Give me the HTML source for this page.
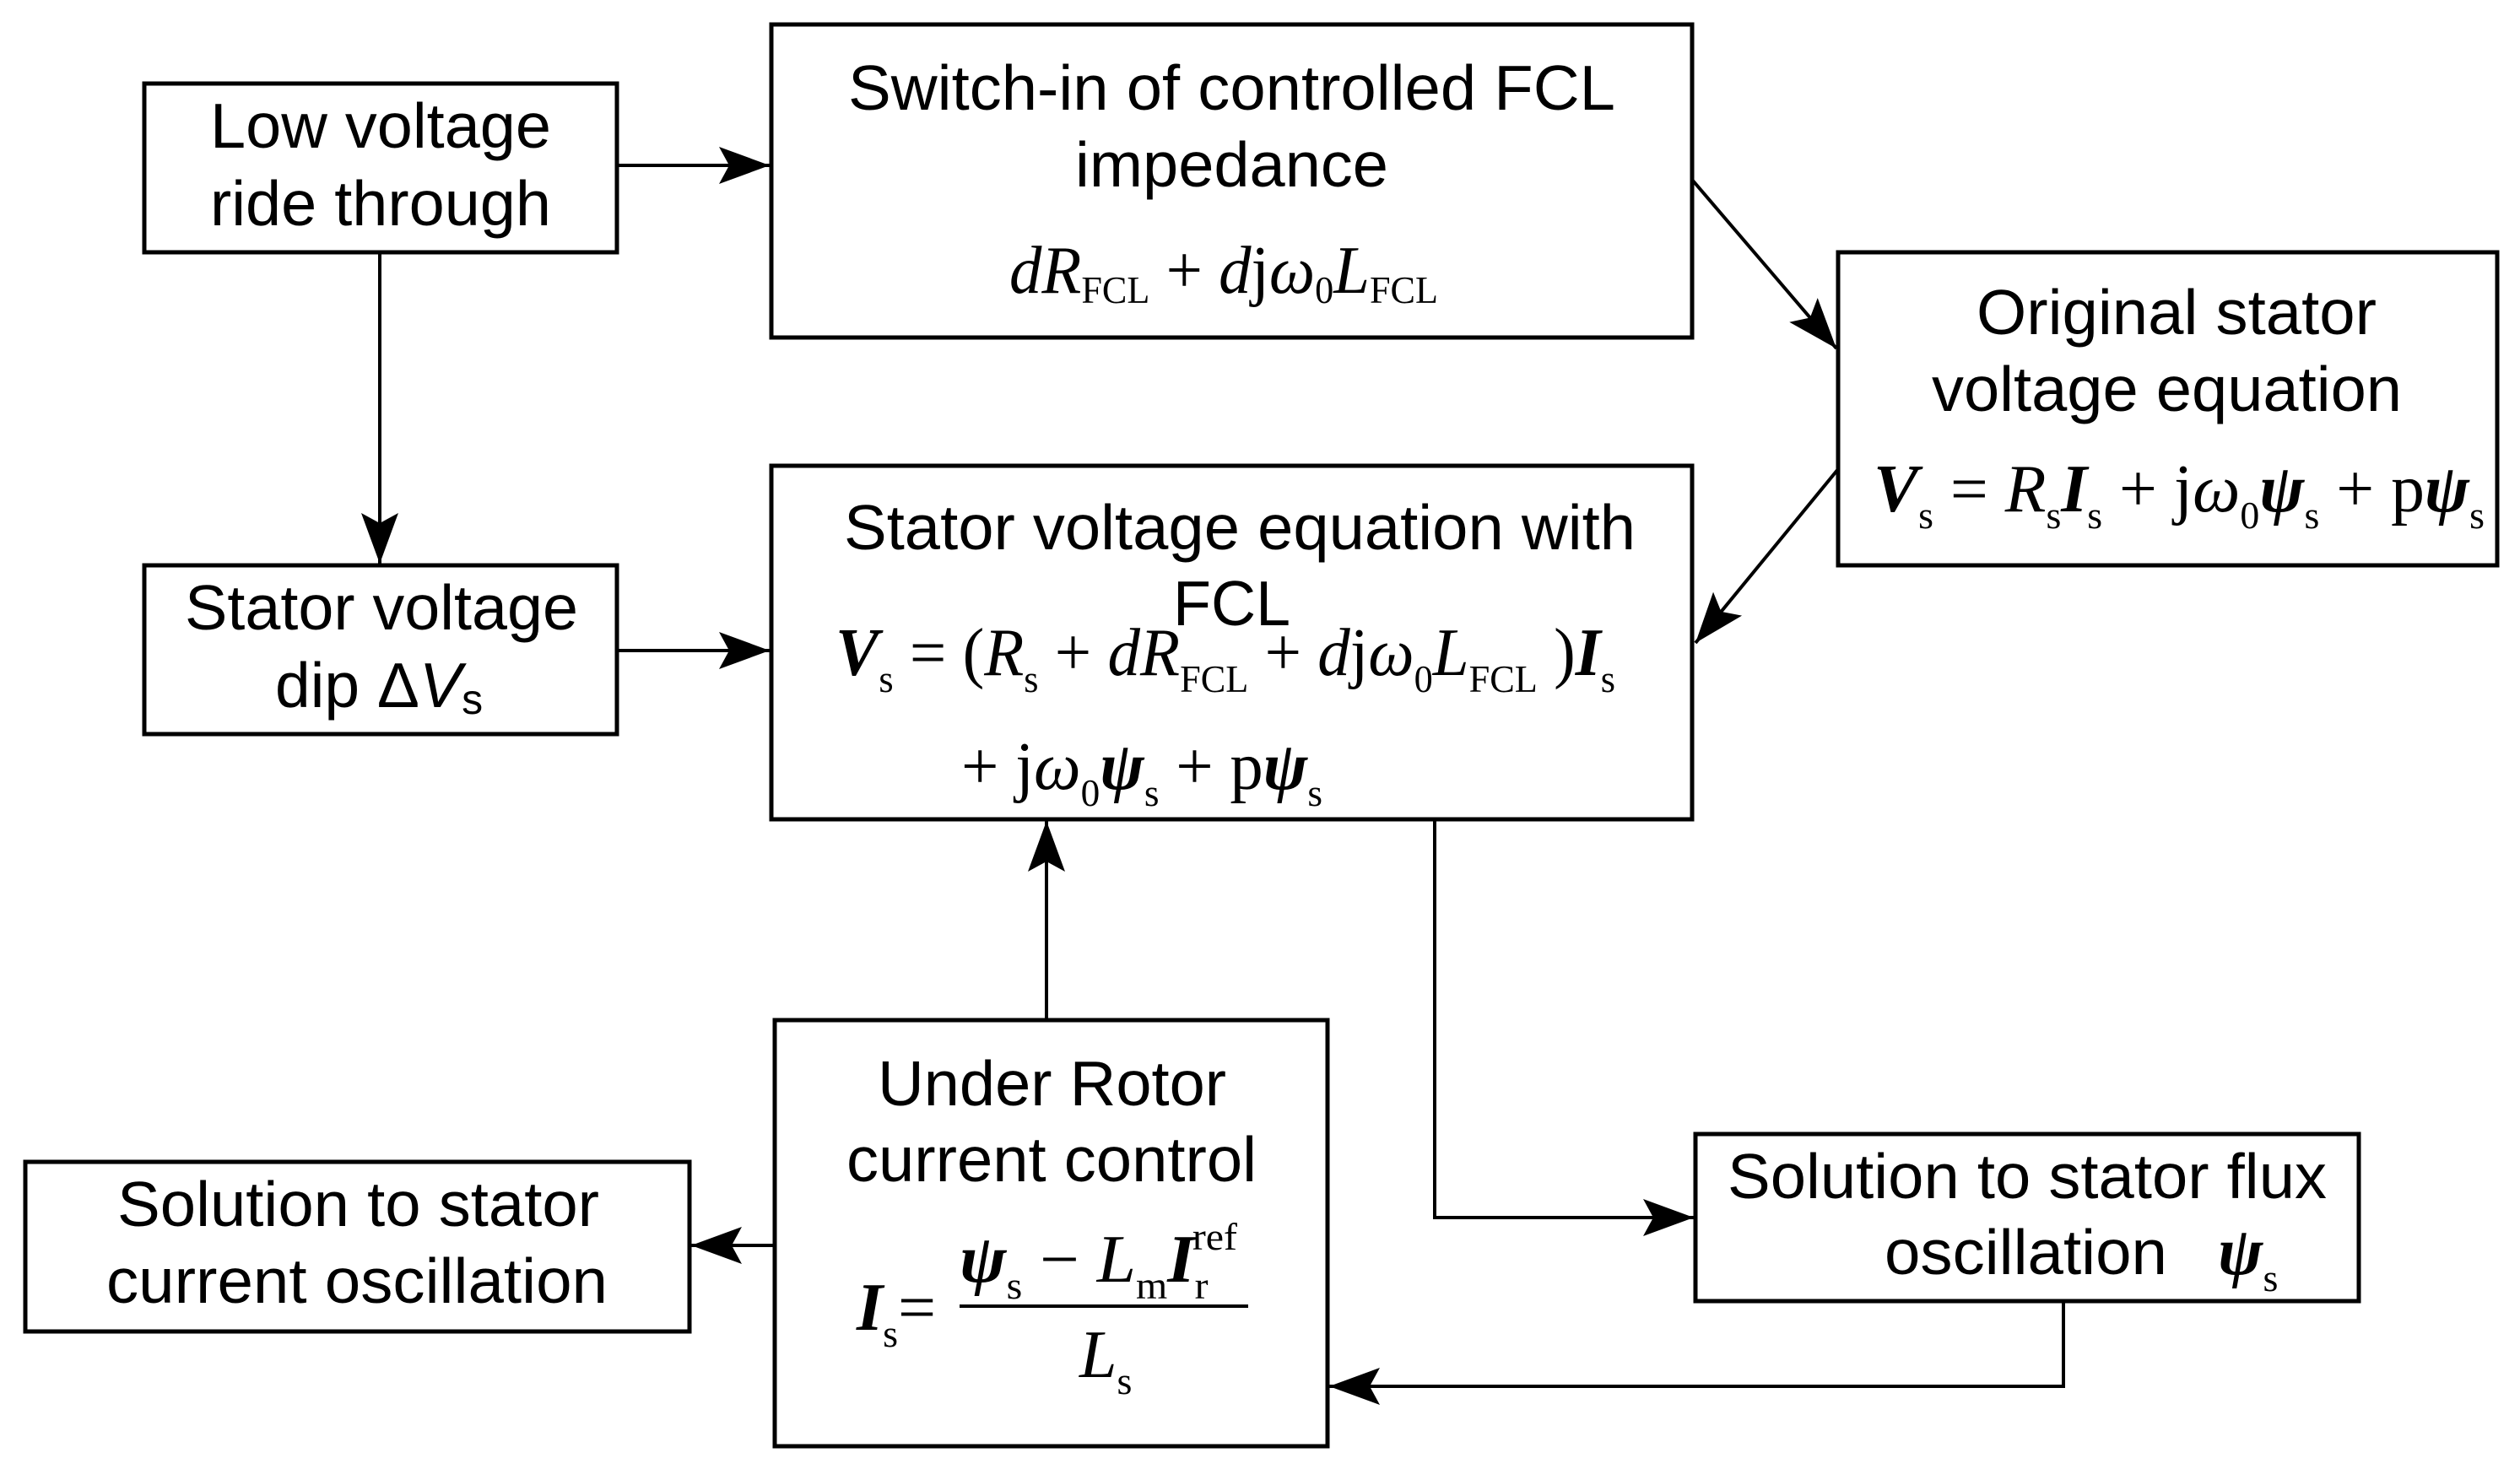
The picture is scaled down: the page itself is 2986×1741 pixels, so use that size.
<!DOCTYPE html>
<html><head><meta charset="utf-8"><style>
html,body{margin:0;padding:0;background:#fff}
svg{display:block}
.s{font-family:"Liberation Sans",Arial,sans-serif;font-size:75px;fill:#000}
.m{font-family:"Liberation Serif","Times New Roman",serif;font-size:80px;fill:#000}
.i{font-style:italic}
.b{font-weight:bold;font-style:italic}
.sub{font-size:46px;font-style:normal;font-weight:normal}
</style></head><body>
<svg width="2986" height="1741" viewBox="0 0 2986 1741" xmlns="http://www.w3.org/2000/svg">
<defs>
<marker id="a" markerWidth="62" markerHeight="50" refX="60" refY="25" orient="auto" markerUnits="userSpaceOnUse">
<path d="M0,3 L60,25 L0,47 L12,25 Z" fill="#000"/>
</marker>
</defs>
<g fill="none" stroke="#000" stroke-width="5">
<rect x="171" y="99" width="560" height="200"/>
<rect x="914" y="29" width="1091" height="371"/>
<rect x="2178" y="299" width="781" height="371"/>
<rect x="171" y="670" width="560" height="200"/>
<rect x="914" y="552" width="1091" height="419"/>
<rect x="918" y="1209" width="655" height="505"/>
<rect x="30" y="1377" width="787" height="201"/>
<rect x="2009" y="1344" width="786" height="198"/>
</g>
<g fill="none" stroke="#000" stroke-width="4" marker-end="url(#a)">
<line x1="731" y1="196" x2="912" y2="196"/>
<line x1="450" y1="299" x2="450" y2="668"/>
<line x1="731" y1="771" x2="912" y2="771"/>
<line x1="2005" y1="213" x2="2176" y2="413"/>
<line x1="2178" y1="556" x2="2009" y2="762"/>
<line x1="1240" y1="1209" x2="1240" y2="973"/>
<polyline points="1700,971 1700,1443 2007,1443"/>
<polyline points="2445,1542 2445,1643 1575,1643"/>
<line x1="918" y1="1476" x2="819" y2="1476"/>
</g>
<g class="s">
<text x="249" y="175" textLength="404" lengthAdjust="spacingAndGlyphs">Low voltage</text>
<text x="249" y="267" textLength="404" lengthAdjust="spacingAndGlyphs">ride through</text>
<text x="1005" y="130" textLength="909" lengthAdjust="spacingAndGlyphs">Switch-in of controlled FCL</text>
<text x="1274" y="221" textLength="371" lengthAdjust="spacingAndGlyphs">impedance</text>
<text x="2342" y="396" textLength="474" lengthAdjust="spacingAndGlyphs">Original stator</text>
<text x="2289" y="487" textLength="557" lengthAdjust="spacingAndGlyphs">voltage equation</text>
<text x="219" y="746" textLength="466" lengthAdjust="spacingAndGlyphs">Stator voltage</text>
<text x="326" y="838">dip Δ<tspan font-style="italic">V</tspan><tspan font-size="50" dy="8">s</tspan></text>
<text x="1000" y="651" textLength="938" lengthAdjust="spacingAndGlyphs">Stator voltage equation with</text>
<text x="1390" y="741" textLength="139" lengthAdjust="spacingAndGlyphs">FCL</text>
<text x="1040" y="1310" textLength="413" lengthAdjust="spacingAndGlyphs">Under Rotor</text>
<text x="1003" y="1400" textLength="486" lengthAdjust="spacingAndGlyphs">current control</text>
<text x="139" y="1453" textLength="571" lengthAdjust="spacingAndGlyphs">Solution to stator</text>
<text x="126" y="1544" textLength="594" lengthAdjust="spacingAndGlyphs">current oscillation</text>
<text x="2047" y="1420" textLength="710" lengthAdjust="spacingAndGlyphs">Solution to stator flux</text>
<text x="2233" y="1510" textLength="335" lengthAdjust="spacingAndGlyphs">oscillation</text>
</g>
<g class="m">
<text x="1196" y="347" textLength="508" lengthAdjust="spacingAndGlyphs"><tspan class="i">dR</tspan><tspan class="sub" dy="12">FCL</tspan><tspan dy="-12"> + </tspan><tspan class="i">d</tspan>j<tspan class="i">ω</tspan><tspan class="sub" dy="12">0</tspan><tspan class="i" dy="-12">L</tspan><tspan class="sub" dy="12">FCL</tspan></text>
<text x="2220" y="606" textLength="724" lengthAdjust="spacingAndGlyphs"><tspan class="b">V</tspan><tspan class="sub" dy="20">s</tspan><tspan dy="-20"> = </tspan><tspan class="i">R</tspan><tspan class="sub" dy="20">s</tspan><tspan class="b" dy="-20">I</tspan><tspan class="sub" dy="20">s</tspan><tspan dy="-20"> + j</tspan><tspan class="i">ω</tspan><tspan class="sub" dy="20">0</tspan><tspan class="b" dy="-20">ψ</tspan><tspan class="sub" dy="20">s</tspan><tspan dy="-20"> + p</tspan><tspan class="b">ψ</tspan><tspan class="sub" dy="20">s</tspan></text>
<text x="990" y="800" textLength="924" lengthAdjust="spacingAndGlyphs"><tspan class="b">V</tspan><tspan class="sub" dy="20">s</tspan><tspan dy="-20"> = (</tspan><tspan class="i">R</tspan><tspan class="sub" dy="20">s</tspan><tspan dy="-20"> + </tspan><tspan class="i">dR</tspan><tspan class="sub" dy="20">FCL</tspan><tspan dy="-20"> + </tspan><tspan class="i">d</tspan>j<tspan class="i">ω</tspan><tspan class="sub" dy="20">0</tspan><tspan class="i" dy="-20">L</tspan><tspan class="sub" dy="20">FCL</tspan><tspan dy="-20"> )</tspan><tspan class="b">I</tspan><tspan class="sub" dy="20">s</tspan></text>
<text x="1139" y="935" textLength="428" lengthAdjust="spacingAndGlyphs">+ j<tspan class="i">ω</tspan><tspan class="sub" dy="20">0</tspan><tspan class="b" dy="-20">ψ</tspan><tspan class="sub" dy="20">s</tspan><tspan dy="-20"> + p</tspan><tspan class="b">ψ</tspan><tspan class="sub" dy="20">s</tspan></text>
<text x="1015" y="1576"><tspan class="b">I</tspan><tspan class="sub" dy="20">s</tspan><tspan dy="-20">=</tspan></text>
<text x="1137" y="1519" textLength="329" lengthAdjust="spacingAndGlyphs"><tspan class="b">ψ</tspan><tspan class="sub" dy="20">s</tspan><tspan dy="-20"> − </tspan><tspan class="i">L</tspan><tspan class="sub" dy="20">m</tspan><tspan class="b" dy="-20">I</tspan><tspan class="sub" dy="20">r</tspan><tspan class="sub" dx="-18" dy="-58">ref</tspan></text>
<text x="1279" y="1632"><tspan class="i">L</tspan><tspan class="sub" dy="20">s</tspan></text>
<text x="2628" y="1510"><tspan class="b">ψ</tspan><tspan class="sub" dy="20">s</tspan></text>
</g>
<line x1="1137" y1="1548" x2="1479" y2="1548" stroke="#000" stroke-width="4"/>
</svg>
</body></html>
